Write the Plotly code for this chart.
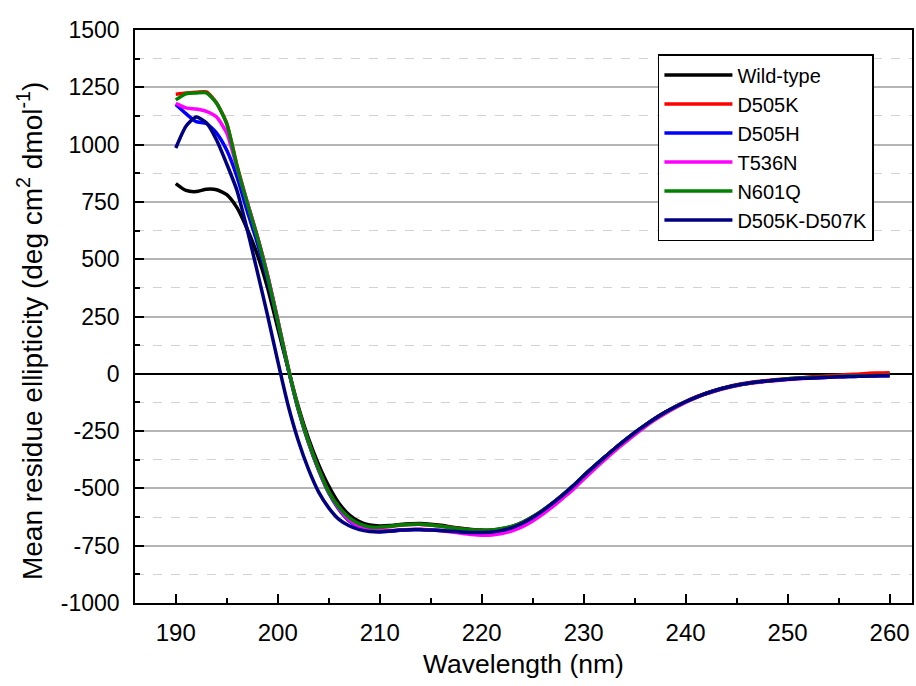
import plotly.graph_objects as go

# Wavelength grid (nm), 1 nm steps
wavelength = list(range(190, 261))

# Mean residue ellipticity (deg cm^2 dmol^-1)
wild_type = [830, 800, 795, 805, 803, 782, 725, 632, 520, 375, 200, 25, -140, -280, -395, -490, -565, -615, -645, -660,
             -664, -662, -657, -654, -653, -656, -661, -668, -674, -679, -682, -681, -676, -666, -648, -624, -595, -562, -526, -488,
             -445, -405, -366, -328, -292, -257, -225, -195, -168, -144, -122, -103, -86, -72, -60, -50, -42, -36, -31, -27,
             -22, -19, -16, -13, -11, -9, -7, -5, -3, -2, -1]
d505k = [1220, 1225, 1228, 1230, 1182, 1092, 910, 750, 600, 430, 235, 32, -150, -295, -415, -515, -583, -630, -657, -670,
         -671, -666, -661, -658, -657, -660, -665, -671, -677, -681, -684, -683, -677, -667, -649, -625, -596, -563, -527, -489,
         -446, -406, -367, -329, -293, -258, -225, -195, -167, -143, -121, -101, -84, -70, -58, -48, -40, -34, -29, -25,
         -22, -19, -15, -12, -9, -6, -3, -1, 2, 4, 5]
d505h = [1175, 1135, 1100, 1092, 1050, 975, 860, 710, 570, 410, 225, 25, -155, -300, -420, -520, -592, -642, -670, -684,
         -688, -687, -683, -680, -679, -681, -684, -687, -690, -692, -693, -691, -684, -672, -653, -628, -598, -564, -528, -489,
         -445, -405, -366, -328, -292, -257, -225, -195, -168, -144, -122, -103, -86, -72, -60, -50, -42, -36, -31, -27,
         -24, -21, -19, -17, -15, -13, -12, -11, -10, -9, -8]
t536n = [1180, 1160, 1155, 1145, 1120, 1050, 900, 748, 598, 430, 235, 30, -152, -297, -418, -518, -588, -638, -666, -680,
         -684, -684, -681, -679, -678, -681, -685, -690, -696, -701, -704, -703, -697, -685, -667, -642, -612, -578, -541, -503,
         -460, -418, -378, -339, -302, -266, -232, -201, -173, -148, -125, -105, -88, -74, -62, -52, -44, -38, -33, -29,
         -25, -22, -19, -17, -15, -13, -11, -10, -9, -8, -7]
n601q = [1195, 1222, 1225, 1226, 1180, 1090, 905, 745, 595, 425, 230, 30, -150, -295, -415, -515, -582, -628, -655, -668,
         -670, -665, -660, -657, -656, -660, -665, -672, -677, -681, -683, -682, -675, -665, -648, -624, -595, -562, -526, -488,
         -445, -405, -366, -328, -292, -257, -225, -195, -168, -144, -122, -103, -86, -72, -60, -50, -42, -36, -31, -27,
         -22, -19, -17, -15, -13, -11, -10, -9, -8, -7, -6]
d505k_d507k = [985, 1080, 1120, 1095, 1020, 915, 800, 630, 445, 255, 55, -135, -290, -415, -515, -585, -635, -663, -680, -688,
               -690, -686, -682, -680, -680, -682, -684, -687, -690, -692, -692, -690, -683, -671, -652, -627, -597, -563, -527, -488,
               -445, -405, -366, -328, -292, -257, -225, -195, -168, -144, -122, -103, -86, -72, -60, -50, -42, -36, -31, -27,
               -24, -21, -19, -17, -15, -13, -12, -11, -10, -9, -9]

series_names = ["Wild-type", "D505K", "D505H", "T536N", "N601Q", "D505K-D507K"]
series_values = [wild_type, d505k, d505h, t536n, n601q, d505k_d507k]
series_colors = ["#000000", "#ff0000", "#0000ff", "#ff00ff", "#008000", "#000080"]

y_ticks = [-1000, -750, -500, -250, 0, 250, 500, 750, 1000, 1250, 1500]
x_ticks = [190, 200, 210, 220, 230, 240, 250, 260]

font_family = "Arial, 'Liberation Sans', sans-serif"

fig = go.Figure()
for name, vals, color in zip(series_names, series_values, series_colors):
    fig.add_trace(go.Scatter(
        x=wavelength, y=vals, mode="lines", name=name,
        line=dict(color=color, width=3.5, shape="spline", smoothing=0.6),
    ))

fig.update_layout(
    width=916, height=686,
    margin=dict(l=135, r=2, t=30, b=83),
    paper_bgcolor="white", plot_bgcolor="white",
    font=dict(family=font_family, color="#000000"),
    showlegend=True,
    legend=dict(
        x=0.673, y=0.958, xanchor="left", yanchor="top",
        bgcolor="white", bordercolor="#000000", borderwidth=1.5,
        font=dict(size=20, family=font_family),
        tracegroupgap=0, itemwidth=68,
    ),
    annotations=[dict(
        text="Mean residue ellipticity (deg cm<sup>2</sup> dmol<sup>-1</sup>)",
        textangle=-90, showarrow=False,
        xref="paper", yref="paper", x=-0.1348, y=0.475,
        xanchor="center", yanchor="middle",
        font=dict(size=28, family=font_family, color="#000000"),
    )],
)

fig.update_xaxes(
    range=[186, 262.2],
    tickmode="array", tickvals=x_ticks, ticktext=[str(v) for v in x_ticks],
    ticks="inside", ticklen=9, tickwidth=1.5, tickcolor="#000000",
    showline=True, linecolor="#000000", linewidth=1.5, mirror=True,
    showgrid=False, zeroline=False,
    tickfont=dict(size=24, family=font_family),
    ticklabelstandoff=7,
    minor=dict(dtick=5, tick0=190, ticks="inside", ticklen=5, tickwidth=1.5, tickcolor="#000000", showgrid=False),
    title=dict(text="Wavelength (nm)", font=dict(size=26.5, family=font_family), standoff=10),
)

fig.update_yaxes(
    range=[-1000, 1500],
    tickmode="array", tickvals=y_ticks, ticktext=[str(v) for v in y_ticks],
    ticks="inside", ticklen=9, tickwidth=1.5, tickcolor="#000000",
    showline=True, linecolor="#000000", linewidth=1.5, mirror=True,
    showgrid=True, gridcolor="#b4b4b4", gridwidth=1.5,
    zeroline=True, zerolinecolor="#000000", zerolinewidth=2,
    tickfont=dict(size=23, family=font_family),
    ticklabelstandoff=9,
    minor=dict(dtick=125, tick0=-1000, ticks="inside", ticklen=5, tickwidth=1.5, tickcolor="#000000",
               showgrid=True, gridcolor="#d2d2d2", gridwidth=1, griddash="dash"),
)

fig.write_html("out.html")
